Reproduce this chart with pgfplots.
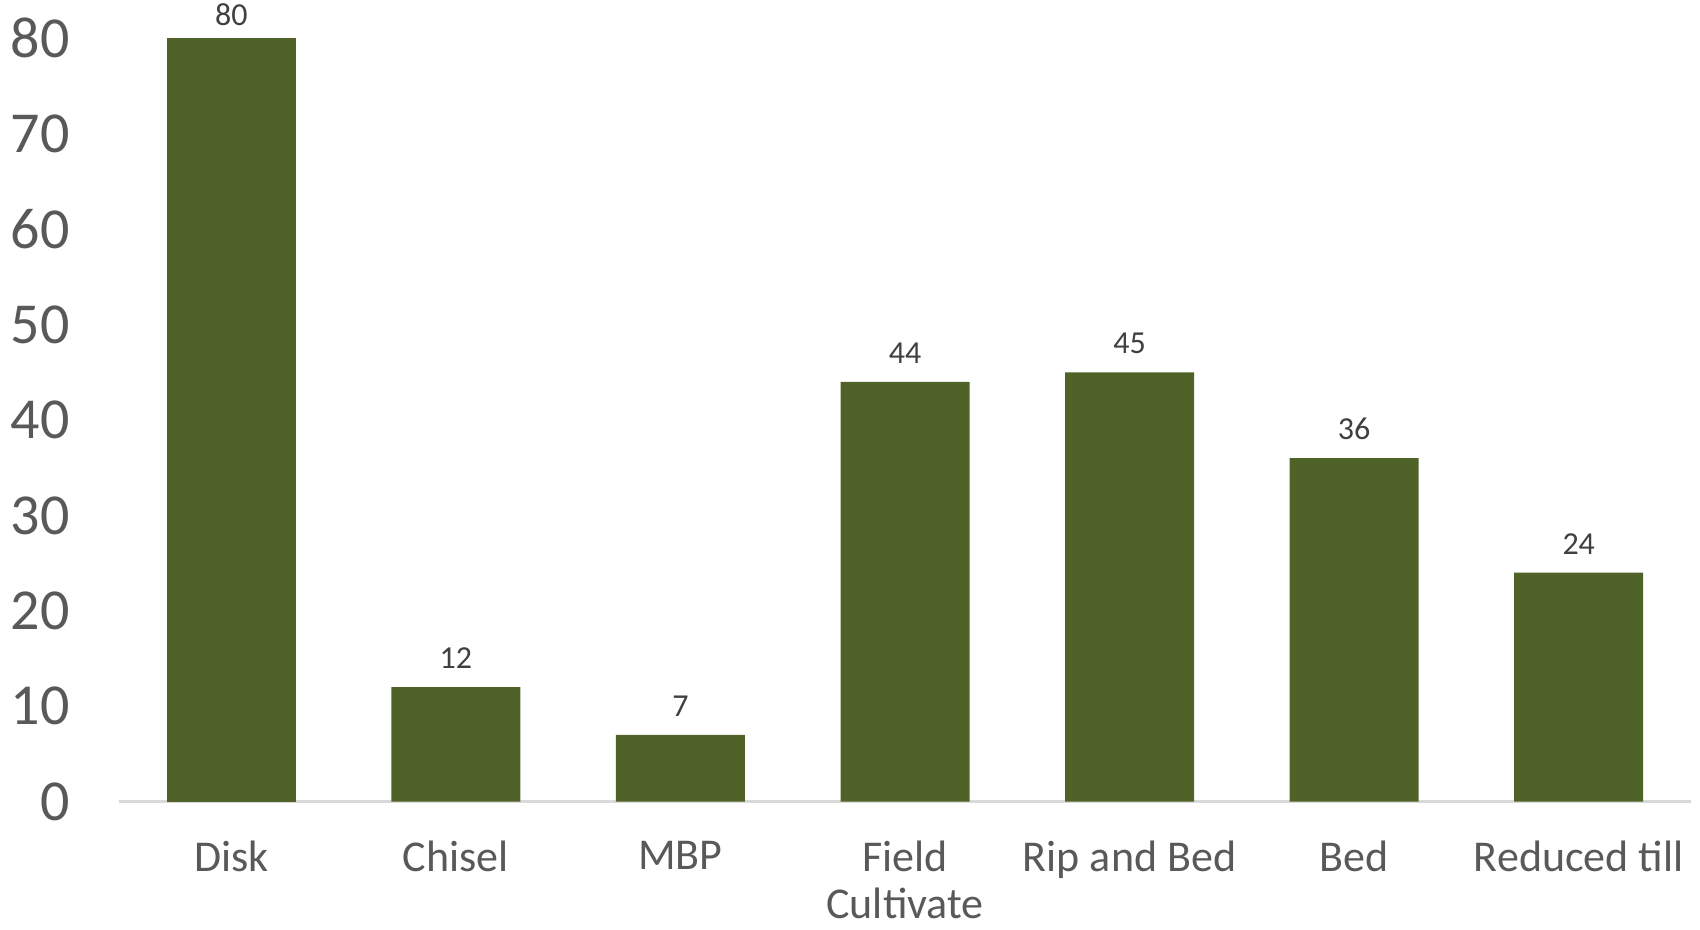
\documentclass[border=0pt]{standalone}
\usepackage{pgfplots}
\pgfplotsset{compat=1.18}
\usepackage{fontspec}
\setmainfont{Carlito}
\definecolor{bargreen}{HTML}{4F6228}
\definecolor{ticktext}{HTML}{595959}
\definecolor{labtext}{HTML}{404040}
\definecolor{axline}{HTML}{D9D9D9}
\begin{document}
\begin{tikzpicture}
\path[use as bounding box] (-59.5pt,-64.15pt) rectangle (790.5pt,400.85pt);
\begin{axis}[
  at={(0,0)}, anchor=south west,
  scale only axis,
  width=786pt, height=381.7pt,
  xmin=-0.5, xmax=6.5, ymin=0, ymax=80,
  clip=false,
  axis x line*=bottom,
  axis y line=none,
  x axis line style={draw=axline, line width=1.2pt, -},
  xtick={0,...,6},
  xticklabels={Disk,Chisel,MBP,Field\\Cultivate,Rip and Bed,Bed,Reduced till},
  xticklabel style={font=\fontsize{22}{23.5}\selectfont, text=ticktext, align=center, anchor=north, inner sep=0pt, yshift=-19.5pt},
  major tick length=0pt,
  ytick={0,10,...,80},
  bar width=64.5pt,
  /pgf/number format/assume math mode=true,
  nodes near coords,
  every node near coord/.append style={font=\fontsize{16}{18}\selectfont, text=labtext, inner sep=0pt, anchor=south},
]
\addplot[ybar, bar shift=0pt, fill=bargreen, draw=none, every node near coord/.append style={yshift=6pt}] coordinates {(0,80)};
\addplot[ybar, bar shift=0pt, fill=bargreen, draw=none, every node near coord/.append style={yshift=9pt}] coordinates {(1,12) (2,7) (3,44) (4,45) (5,36) (6,24)};
\end{axis}
\begin{axis}[
  at={(0,0)}, anchor=south west,
  scale only axis,
  width=786pt, height=381.7pt,
  xmin=-0.5, xmax=6.5, ymin=0, ymax=80,
  axis x line=none,
  axis y line*=left,
  y axis line style={draw=none},
  major tick length=0pt,
  ytick={0,10,...,80},
  yticklabel style={font=\fontsize{29}{32}\selectfont, text=ticktext, anchor=east, inner sep=0pt, xshift=-24.5pt},
  /pgf/number format/assume math mode=true,
]
\addplot[draw=none] coordinates {(0,0)};
\end{axis}
\end{tikzpicture}
\end{document}
